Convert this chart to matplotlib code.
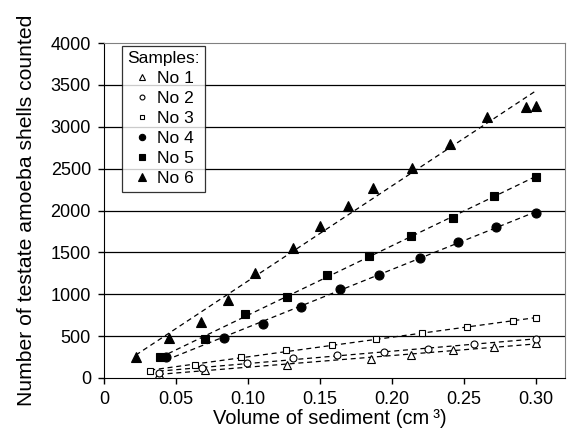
import numpy as np
import matplotlib
matplotlib.use('Agg')
from matplotlib import pyplot as plt

plt.rcParams['font.family'] = ['Liberation Sans', 'DejaVu Sans']

# sample data: volume (cm3) vs shells counted
x1 = [0.038, 0.070, 0.127, 0.185, 0.213, 0.242, 0.271, 0.300]
y1 = [45, 100, 160, 230, 280, 330, 365, 420]
x2 = [0.038, 0.068, 0.099, 0.131, 0.162, 0.194, 0.225, 0.257, 0.300]
y2 = [60, 120, 180, 240, 280, 310, 350, 400, 460]
x3 = [0.032, 0.063, 0.095, 0.126, 0.158, 0.189, 0.221, 0.252, 0.284, 0.300]
y3 = [80, 160, 250, 330, 390, 460, 540, 610, 680, 715]
x4 = [0.043, 0.083, 0.110, 0.137, 0.164, 0.191, 0.219, 0.246, 0.272, 0.300]
y4 = [245, 480, 640, 850, 1060, 1235, 1435, 1625, 1805, 1975]
x5 = [0.039, 0.070, 0.098, 0.127, 0.155, 0.184, 0.213, 0.242, 0.271, 0.300]
y5 = [250, 460, 760, 970, 1235, 1460, 1690, 1905, 2175, 2405]
x6 = [0.022, 0.045, 0.067, 0.086, 0.105, 0.131, 0.150, 0.169, 0.187, 0.214,
      0.240, 0.266, 0.293, 0.300]
y6 = [250, 480, 670, 930, 1250, 1550, 1810, 2050, 2270, 2510,
      2800, 3120, 3240, 3250]

labels = ['No 1', 'No 2', 'No 3', 'No 4', 'No 5', 'No 6']
xticks = [0, 0.05, 0.10, 0.15, 0.20, 0.25, 0.30]
xticklabels = ['0', '0.05', '0.10', '0.15', '0.20', '0.25', '0.30']
yticks = list(range(0, 4001, 500))

series = [(x1, y1), (x2, y2), (x3, y3), (x4, y4), (x5, y5), (x6, y6)]
styles = [('^', 'white', 5.5), ('o', 'white', 5), ('s', 'white', 5),
          ('o', 'black', 6.5), ('s', 'black', 6), ('^', 'black', 7.5)]

fig = plt.figure(figsize=(5.69, 4.40), dpi=100)
ax = fig.add_axes([0.183, 0.141, 0.810, 0.761])

for yt in yticks[1:-1]:
    ax.axhline(yt, color='black', lw=0.9, zorder=0)

for (xs, ys), (m, fc, ms), lab in zip(series, styles, labels):
    ax.plot(xs, ys, ls='none', marker=m, mfc=fc, mec='black', mew=0.8,
            ms=ms, label=lab, zorder=3)
    # linear trend line
    k, b = np.polyfit(xs, ys, 1)
    xx = np.array([min(xs), max(xs)])
    ax.plot(xx, k * xx + b, ls=(0, (4, 3)), color='black', lw=0.9, zorder=2)

ax.set_xlim(0, 0.32)
ax.set_ylim(0, 4000)
ax.set_xticks(xticks)
ax.set_xticklabels(xticklabels)
ax.set_yticks(yticks)
ax.tick_params(labelsize=13, direction='out', length=4.5, width=1)
ax.tick_params(axis='y', pad=5)
ax.tick_params(axis='x', pad=5)
for s in ['top', 'right']:
    ax.spines[s].set_color('#808080')

ax.set_xlabel('Volume of sediment (cm\u2009\u00b3)', fontsize=14.5)
ax.set_ylabel('Number of testate amoeba shells counted', fontsize=15.2)
ax.xaxis.set_label_coords(0.49, -0.092)
ax.yaxis.set_label_coords(-0.147, 0.5)

leg = ax.legend(title='Samples:', loc='upper left',
                bbox_to_anchor=(0.039, 0.991), borderaxespad=0,
                fontsize=12.5, title_fontsize=12.5, frameon=True,
                fancybox=False, edgecolor='black', handletextpad=0.4,
                handlelength=1.0, labelspacing=0.28, borderpad=0.3,
                markerscale=0.7)
leg.get_frame().set_linewidth(0.9)

fig.savefig('out.png', dpi=100)
